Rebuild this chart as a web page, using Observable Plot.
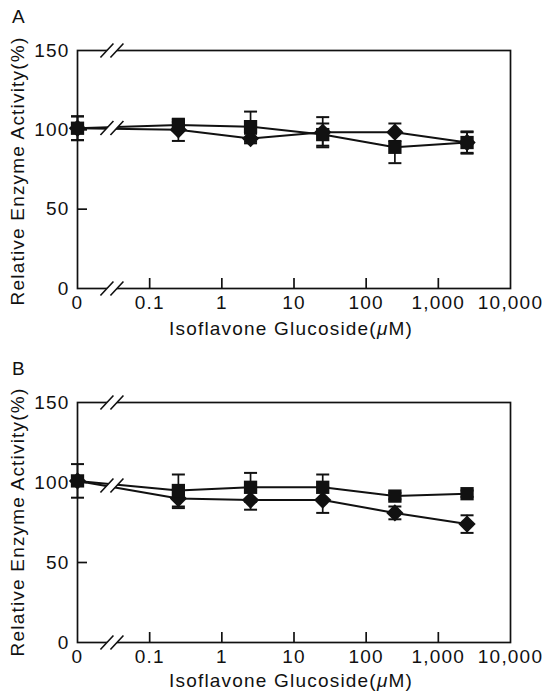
<!DOCTYPE html>
<html><head><meta charset="utf-8">
<script src="https://cdn.jsdelivr.net/npm/d3@7"></script>
<script src="https://cdn.jsdelivr.net/npm/@observablehq/plot@0.6"></script>
<style>
body{margin:0;background:#fff;}
#wrap{position:relative;width:544px;height:691px;font-family:"Liberation Sans",Arial,sans-serif;color:#111;overflow:hidden;}
.panel{position:absolute;left:0;}
.lbl{position:absolute;font-size:19px;line-height:19px;letter-spacing:1.2px;white-space:nowrap;}
.ytitle{transform:translate(-50%,-50%) rotate(-90deg);}
.xtitle{transform:translateX(-50%);}
</style></head><body><div id="wrap"></div>
<script>
// ---- data ----
const concentrations = [0, 0.25, 2.5, 25, 250, 2500];   // µM
const zeroAt = 0.01;                                      // log position standing for "0"
const xTicks = [0.01, 0.1, 1, 10, 100, 1000, 10000];
const xTickLabels = ["0", "0.1", "1", "10", "100", "1,000", "10,000"];
const innerXTicks = [0.1, 1, 10, 100, 1000];
const yTicks = [0, 50, 100, 150];
const innerYTicks = [50, 100];
const breakAt = 0.03;
const panelLabels = ["A", "B"];
const xTitle = "Isoflavone Glucoside(<i>μ</i>M)";
const yTitle = "Relative Enzyme Activity(%)";

const aSquare     = [101, 103, 102, 97, 89, 92];
const aSquareErr  = [7.5, 2, 9.5, 7, 10, 6.5];
const aDiamond    = [101, 100, 94.5, 98.5, 98.5, 92];
const aDiamondErr = [7.5, 7, 3, 9.5, 5.5, 7];

const bSquare     = [101, 95, 97, 97, 91.5, 93];
const bSquareErr  = [10.5, 10, 9, 8, 2, 2];
const bDiamond    = [101, 90, 89, 89, 81, 74];
const bDiamondErr = [3, 6, 6, 8, 4, 5.5];

// ---- symbols ----
const capSymbol = {draw(ctx, size){ const s = Math.sqrt(size/Math.PI); ctx.moveTo(-s,0); ctx.lineTo(s,0); }};
const breakFill = {draw(ctx, size){ const k = Math.sqrt(size/Math.PI)/7;
  ctx.moveTo(-8.7*k, 4*k); ctx.lineTo(1.3*k, 4*k); ctx.lineTo(8.7*k, -4*k); ctx.lineTo(-1.3*k, -4*k); ctx.closePath(); }};
const breakSlash = {draw(ctx, size){ const k = Math.sqrt(size/Math.PI)/7;
  ctx.moveTo(-11.5*k, 7*k); ctx.lineTo(1.5*k, -7*k);
  ctx.moveTo(-1.5*k, 7*k); ctx.lineTo(11.5*k, -7*k); }};

const tickLab = new Map(xTicks.map((t,i)=>[t, xTickLabels[i]]));
const INK = "#111";

function panel(sq, sqE, di, diE, height, marginTop, marginBottom) {
  const xpos = c => c === 0 ? zeroAt : c;
  const squares = concentrations.map((c,i)=>({series:"square", x:xpos(c), y:sq[i], e:sqE[i]}));
  const diamonds = concentrations.map((c,i)=>({series:"diamond", x:xpos(c), y:di[i], e:diE[i]}));
  const rows = squares.concat(diamonds);
  const marginLeft = 77, marginRight = 34;
  const fw = 544 - marginLeft - marginRight;
  const fh = height - marginTop - marginBottom;
  const t = (Math.log(breakAt)-Math.log(zeroAt))/(Math.log(concentrations[1])-Math.log(zeroAt));
  const yb = ((sq[0]+(sq[1]-sq[0])*t) + (di[0]+(di[1]-di[0])*t))/2;
  const breaks = [{x:breakAt, y:0}, {x:breakAt, y:150}, {x:breakAt, y:yb}];
  return Plot.plot({
    width: 544, height, marginTop, marginBottom, marginLeft, marginRight,
    style: {fontFamily:'"Liberation Sans", Arial, sans-serif', fontSize:"19px", color:INK, background:"white", letterSpacing:"1.2px", overflow:"visible"},
    x: {type:"log", domain:[0.01, 10000]},
    y: {domain:[0, 150]},
    marks: [
      Plot.frame({stroke:INK, strokeWidth:1.7}),
      Plot.axisX(xTicks, {tickSize:0, tickPadding:7, tickFormat:d=>tickLab.get(d), label:null, fill:INK}),
      Plot.axisY(yTicks, {tickSize:0, tickPadding:8, label:null, fill:INK}),
      Plot.tickX(innerXTicks, {x:d=>d, insetTop: fh-10, stroke:INK, strokeWidth:1.7}),
      Plot.tickY(innerYTicks, {y:d=>d, insetRight: fw-10, stroke:INK, strokeWidth:1.7}),
      Plot.line(rows, {x:"x", y:"y", z:"series", stroke:INK, strokeWidth:2}),
      Plot.ruleX(rows, {x:"x", y1:d=>d.y-d.e, y2:d=>d.y+d.e, stroke:INK, strokeWidth:1.7}),
      Plot.dot(rows, {x:"x", y:d=>d.y+d.e, symbol:capSymbol, r:6.5, stroke:INK, fill:"none", strokeWidth:2}),
      Plot.dot(rows, {x:"x", y:d=>d.y-d.e, symbol:capSymbol, r:6.5, stroke:INK, fill:"none", strokeWidth:2}),
      Plot.dot(diamonds, {x:"x", y:"y", symbol:"diamond2", r:7.8, fill:INK, stroke:"none"}),
      Plot.dot(squares, {x:"x", y:"y", symbol:"square", r:7.5, fill:INK, stroke:"none"}),
      Plot.dot(breaks, {x:"x", y:"y", symbol:breakFill, r:7, fill:"white", stroke:"none"}),
      Plot.dot(breaks, {x:"x", y:"y", symbol:breakSlash, r:7, fill:"none", stroke:INK, strokeWidth:1.6})
    ]
  });
}

const wrap = document.getElementById("wrap");
function place(el, top){ el.classList.add("panel"); el.style.top = top+"px"; wrap.appendChild(el); }
place(panel(aSquare, aSquareErr, aDiamond, aDiamondErr, 345, 50, 57), 0);
place(panel(bSquare, bSquareErr, bDiamond, bDiamondErr, 341, 52, 49), 350);

function label(html, cls, left, top){ const d = document.createElement("div"); d.className = "lbl "+cls; d.innerHTML = html; d.style.left = left+"px"; d.style.top = top+"px"; wrap.appendChild(d); }
label(panelLabels[0], "", 12, 7);
label(panelLabels[1], "", 12, 359);
label(xTitle, "xtitle", 291, 319);
label(xTitle, "xtitle", 291, 671);
label(yTitle, "ytitle", 17, 171);
label(yTitle, "ytitle", 17, 522);
</script></body></html>
